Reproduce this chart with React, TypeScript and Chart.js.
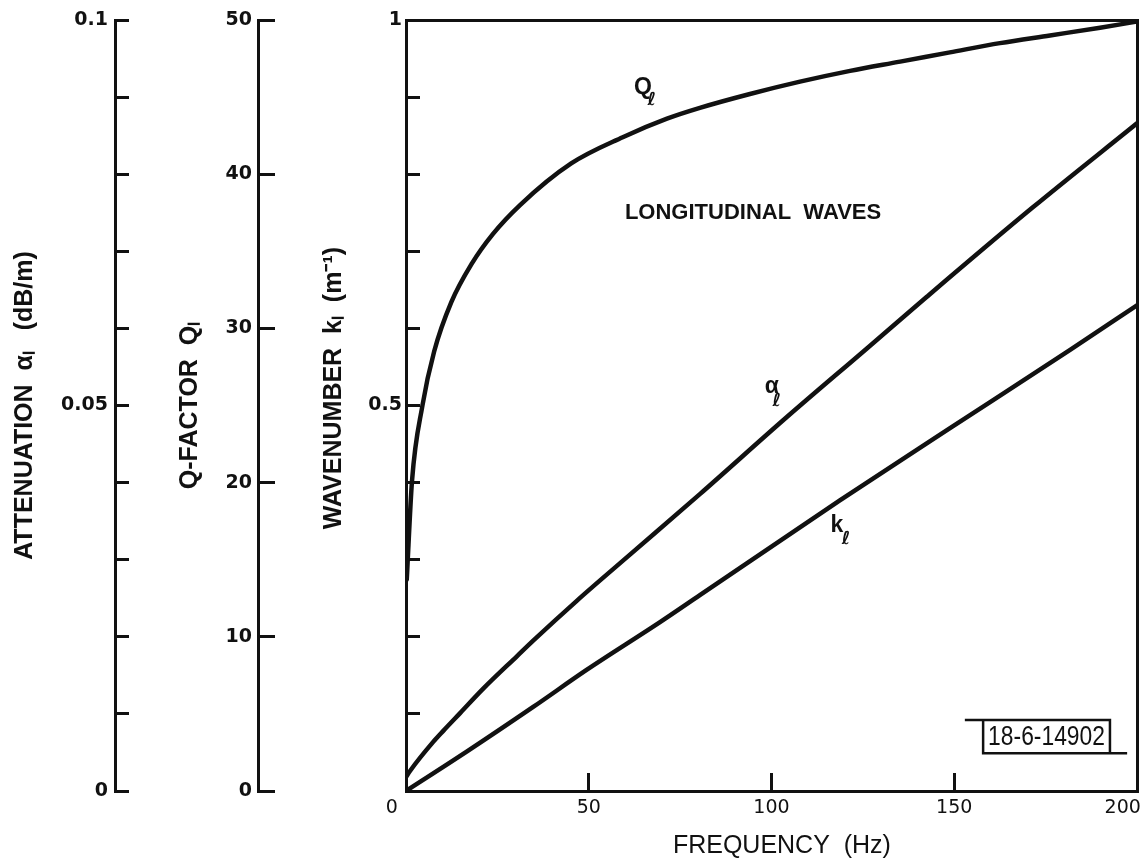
import React, { useEffect, useRef } from "react";
import { Chart, registerables } from "chart.js";

Chart.register(...registerables);

// ---- data ----
// Frequency axis (Hz)
const freqTicks = [0, 50, 100, 150, 200];

// Q-factor curve (Q_l), left axis 0..50
const qFreq = [0.2, 1.64, 4.5, 7.7, 12.4, 18.0, 23.7, 31.2, 45.2, 59.3, 71.4, 80.4, 94.1, 107.8, 121.5, 135.2, 148.8, 162.5, 176.2, 189.9, 200];
const qValues = [13.7, 20.1, 25.0, 28.5, 31.7, 34.2, 36.1, 38.0, 40.7, 42.4, 43.6, 44.3, 45.2, 46.0, 46.7, 47.3, 47.9, 48.5, 49.0, 49.5, 49.9];

// Attenuation curve (alpha_l), dB/m, axis 0..0.1
const alphaFreq = [0, 1.1, 7.5, 10.2, 14.8, 21.2, 30.4, 34.8, 46.8, 60.4, 80.4, 104.2, 126.1, 142.5, 171.5, 200];
const alphaValues = [0.0018, 0.0026, 0.0064, 0.0078, 0.0101, 0.0133, 0.0175, 0.0195, 0.0247, 0.0303, 0.0385, 0.0485, 0.0574, 0.0641, 0.0757, 0.0866];

// Wavenumber curve (k_l), 1/m, axis 0..1
const kFreq = [0, 16.6, 34.8, 49.4, 69.5, 80.4, 118.7, 148.0, 181.7, 200];
const kValues = [0, 0.051, 0.109, 0.157, 0.219, 0.254, 0.377, 0.468, 0.572, 0.63];

// Tick labels shown on each vertical axis
const attenuationLabels = [0, 0.05, 0.1];
const qLabels = [0, 10, 20, 30, 40, 50];
const wavenumberLabels = [0.5, 1];

const INK = "#111";
const TITLE_FONT = "'Liberation Sans', Arial, sans-serif";
const TICK_FONT = "'DejaVu Sans', sans-serif";

const hasLabel = (list: number[], v: number) => list.some((l) => Math.abs(l - v) < 1e-9);

const toPoints = (xs: number[], ys: number[]) => xs.map((x, i) => ({ x, y: ys[i] }));

function drawSymbol(ctx: CanvasRenderingContext2D, main: string, x: number, y: number, dx: number, dy: number) {
  ctx.font = `bold 23px ${TITLE_FONT}`;
  ctx.textAlign = "center";
  ctx.textBaseline = "middle";
  ctx.fillText(main, x, y);
  ctx.font = `italic bold 18px ${TICK_FONT}`;
  ctx.fillText("\u2113", x + dx, y + dy);
}

const annotationPlugin = {
  id: "figureAnnotations",
  afterDatasetsDraw(chart: any) {
    const { ctx, scales } = chart;
    const px = (v: number) => scales.x.getPixelForValue(v);
    const py = (v: number) => scales.y.getPixelForValue(v);
    ctx.save();
    ctx.fillStyle = INK;
    ctx.strokeStyle = INK;

    drawSymbol(ctx, "Q", px(64.8), py(0.912), 9, 12);
    drawSymbol(ctx, "\u03b1", px(100.1), py(0.525), 5, 15);
    drawSymbol(ctx, "k", px(117.9), py(0.344), 9, 14);

    ctx.font = `bold 22px ${TITLE_FONT}`;
    ctx.textAlign = "left";
    ctx.textBaseline = "middle";
    ctx.fillText("LONGITUDINAL  WAVES", px(59.9), py(0.75), 267);

    // drawing-number box
    const bx1 = px(157.9), bx2 = px(192.6), byT = py(0.092), byB = py(0.049);
    ctx.lineWidth = 2.5;
    ctx.beginPath();
    ctx.moveTo(px(152.9), byT);
    ctx.lineTo(bx2, byT);
    ctx.lineTo(bx2, byB);
    ctx.moveTo(bx1, byT);
    ctx.lineTo(bx1, byB);
    ctx.lineTo(px(197.3), byB);
    ctx.stroke();
    ctx.font = `27px ${TITLE_FONT}`;
    ctx.textAlign = "center";
    ctx.fillText("18-6-14902", (bx1 + bx2) / 2, (byT + byB) / 2 + 1, bx2 - bx1 - 10);
    ctx.restore();
  },
};

function leftAxis(weight: number, width: number, min: number, max: number, step: number, labels: number[], fmt: (v: number) => string, tickLen: number, pad: number, title: string, titlePad: number) {
  return {
    type: "linear",
    position: "left",
    weight,
    min,
    max,
    ticks: {
      stepSize: step,
      autoSkip: false,
      padding: pad,
      color: INK,
      font: { family: TICK_FONT, size: 19, weight: "bold" },
      callback: (v: number) => (hasLabel(labels, v) ? fmt(v) : ""),
    },
    grid: {
      drawOnChartArea: false,
      drawTicks: true,
      tickLength: -tickLen,
      tickWidth: 3,
      tickColor: INK,
      lineWidth: 3,
      color: INK,
    },
    border: { display: true, color: INK, width: 3 },
    title: {
      display: true,
      text: title,
      color: INK,
      font: { family: TITLE_FONT, size: 25, weight: "bold" },
      padding: { top: titlePad, bottom: 0 },
    },
    afterFit: (s: any) => {
      s.width = width;
      s.paddingTop = 0;
      s.paddingBottom = 0;
    },
  };
}

export default function App() {
  const ref = useRef<HTMLCanvasElement>(null);

  useEffect(() => {
    const canvas = ref.current;
    if (!canvas) return;

    const lineStyle = {
      borderColor: INK,
      borderWidth: 4.5,
      pointRadius: 0,
      fill: false,
      cubicInterpolationMode: "monotone" as const,
      borderCapStyle: "round" as const,
      borderJoinStyle: "round" as const,
    };

    const chart = new Chart(canvas, {
      type: "line",
      data: {
        datasets: [
          { label: "Q", data: toPoints(qFreq, qValues), yAxisID: "yQ", ...lineStyle },
          { label: "alpha", data: toPoints(alphaFreq, alphaValues), yAxisID: "yA", ...lineStyle },
          { label: "k", data: toPoints(kFreq, kValues), yAxisID: "y", ...lineStyle },
        ],
      },
      options: {
        animation: false,
        responsive: false,
        parsing: false as any,
        layout: { padding: { left: 0, top: 20, right: 10, bottom: 0 } },
        plugins: { legend: { display: false }, tooltip: { enabled: false } },
        scales: {
          x: {
            type: "linear",
            position: "bottom",
            min: 0,
            max: 200,
            afterBuildTicks: (s: any) => {
              s.ticks = freqTicks.map((value) => ({ value }));
            },
            ticks: {
              autoSkip: false,
              maxRotation: 0,
              padding: 24,
              color: INK,
              font: { family: TICK_FONT, size: 19 },
              callback: (v: number) => (v === 0 || v === 200 ? `${v}\u2003\u2002` : `${v}`),
            },
            grid: {
              drawOnChartArea: false,
              tickLength: -18,
              tickWidth: 3,
              tickColor: INK,
              lineWidth: 3,
              color: INK,
            },
            border: { display: true, color: INK, width: 3 },
            title: {
              display: true,
              text: "   FREQUENCY  (Hz)",
              color: INK,
              font: { family: TITLE_FONT, size: 25 },
              padding: { top: 0, bottom: 1 },
            },
            afterFit: (s: any) => {
              s.height = 71;
              s.paddingLeft = 0;
              s.paddingRight = 0;
            },
          },
          xTop: {
            type: "linear",
            position: "top",
            min: 0,
            max: 200,
            ticks: { display: false },
            grid: { display: false },
            border: { display: true, color: INK, width: 3 },
            afterFit: (s: any) => {
              s.height = 0;
              s.paddingLeft = 0;
              s.paddingRight = 0;
            },
          },
          yA: leftAxis(3, 115, 0, 0.1, 0.01, attenuationLabels, (v) => (v === 0 ? "0" : String(Number(v.toFixed(2)))), 14, 21, "ATTENUATION  \u03b1\u2097   (dB/m)", 10),
          yQ: leftAxis(2, 143, 0, 50, 10, qLabels, (v) => String(v), 17, 23, "Q-FACTOR  Q\u2097", 60),
          y: leftAxis(1, 148, 0, 1, 0.1, wavenumberLabels, (v) => String(Number(v.toFixed(1))), 14, 18, "     WAVENUMBER  k\u2097  (m\u207b\u00b9)", 61),
          yRight: {
            type: "linear",
            position: "right",
            min: 0,
            max: 1,
            ticks: { display: false },
            grid: { display: false },
            border: { display: true, color: INK, width: 3 },
            afterFit: (s: any) => {
              s.width = 0;
              s.paddingTop = 0;
              s.paddingBottom = 0;
            },
          },
        } as any,
      },
      plugins: [annotationPlugin],
    } as any);

    return () => chart.destroy();
  }, []);

  return (
    <div style={{ position: "absolute", left: 0, top: 0, width: 1147, height: 862, background: "#fff" }}>
      <canvas ref={ref} width={1147} height={862} style={{ display: "block", width: 1147, height: 862 }} />
    </div>
  );
}
